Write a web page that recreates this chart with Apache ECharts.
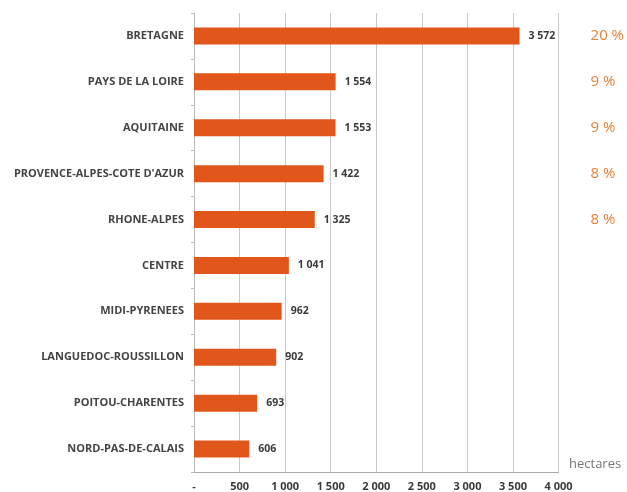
<!DOCTYPE html>
<html><head><meta charset="utf-8">
<script src="https://cdn.jsdelivr.net/npm/echarts@6/dist/echarts.min.js"></script>
<style>html,body{margin:0;padding:0;background:#fff}#c{width:627px;height:492px}</style>
</head><body><div id="c"></div>
<script>
const categories = ['BRETAGNE','PAYS DE LA LOIRE','AQUITAINE','PROVENCE-ALPES-COTE D\'AZUR','RHONE-ALPES','CENTRE','MIDI-PYRENEES','LANGUEDOC-ROUSSILLON','POITOU-CHARENTES','NORD-PAS-DE-CALAIS'];
const hectares = [3572,1554,1553,1422,1325,1041,962,902,693,606];
const shares = ['20 %','9 %','9 %','8 %','8 %','','','','',''];
const xTicks = [0,500,1000,1500,2000,2500,3000,3500,4000];

function fmt(v){ if(v===0) return '-'; return String(v).replace(/\B(?=(\d{3})+(?!\d))/g,' '); }

const chart = echarts.init(document.getElementById('c'));
chart.setOption({
  animation:false,
  grid:{left:194,right:68,top:13,bottom:20,containLabel:false},
  xAxis:{type:'value',min:0,max:4000,interval:500,
    axisLine:{show:true,lineStyle:{color:'#aaa'}},
    axisTick:{show:false},
    splitLine:{show:true,lineStyle:{color:'#c8c8c8',width:1}},
    axisLabel:{margin:9,color:'#3a3a3a',fontSize:11,fontWeight:'bold',fontFamily:'Open Sans',formatter:fmt}
  },
  yAxis:[{type:'category',data:categories,inverse:true,
    axisLine:{show:true,lineStyle:{color:'#bbb'}},
    axisTick:{show:true,length:3,lineStyle:{color:'#bbb'}},
    axisLabel:{margin:10,color:'#444',fontSize:11,fontWeight:'bold',fontFamily:'Open Sans'}
  },{type:'category',data:shares,inverse:true,position:'right',
    axisLine:{show:false},axisTick:{show:false},
    axisLabel:{margin:32,color:'#e8823a',fontSize:15,fontFamily:'Open Sans',align:'left'}
  }],
  graphic:[{type:'text',left:569,top:458,style:{text:'hectares',fill:'#777',fontSize:13,fontFamily:'Open Sans'}}],
  series:[{type:'bar',data:hectares,barWidth:17,
    itemStyle:{color:'#e0561b'},
    label:{show:true,position:'right',distance:9,color:'#3a3a3a',fontSize:10.5,fontWeight:'bold',fontFamily:'Open Sans',formatter:p=>fmt(p.value)}
  }]
});
</script></body></html>
